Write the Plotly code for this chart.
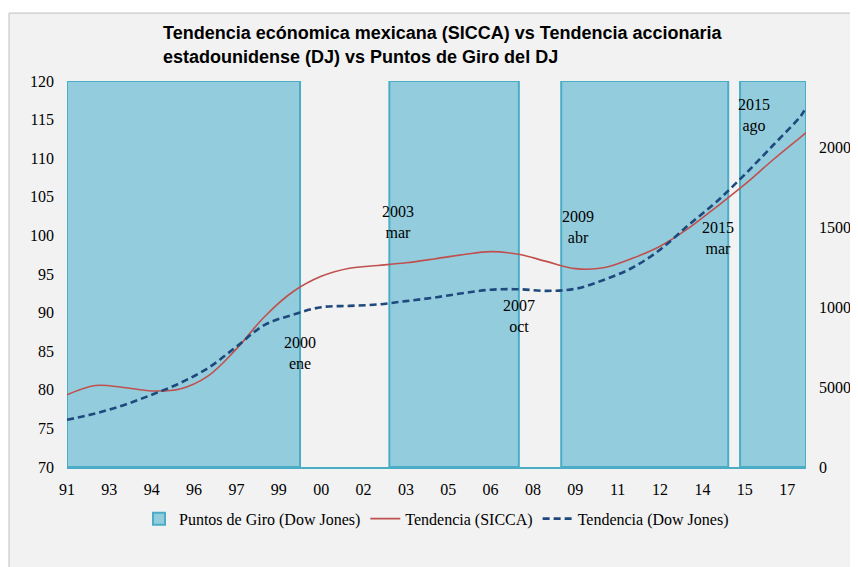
import pandas as pd
import plotly.graph_objects as go

# ---------------------------------------------------------------------------
# Datos
# ---------------------------------------------------------------------------

# puntos de muestreo anuales (octubre) + cierre dic 2017
fechas = [
    "1991-10-01", "1992-10-01", "1993-10-01", "1994-10-01", "1995-10-01",
    "1996-10-01", "1997-10-01", "1998-10-01", "1999-10-01", "2000-10-01",
    "2001-10-01", "2002-10-01", "2003-10-01", "2004-10-01", "2005-10-01",
    "2006-10-01", "2007-10-01", "2008-10-01", "2009-10-01", "2010-10-01",
    "2011-10-01", "2012-10-01", "2013-10-01", "2014-10-01", "2015-10-01",
    "2016-10-01", "2017-10-01", "2017-12-01",
]

tendencia_sicca = [
    79.35, 80.55, 80.3, 79.85, 80.1, 81.8, 85.3, 89.5, 92.7, 94.7,
    95.75, 96.1, 96.45, 96.95, 97.5, 97.9, 97.55, 96.6, 95.7, 95.8,
    97.0, 98.6, 100.9, 103.7, 106.6, 109.8, 112.8, 113.3,
]

tendencia_dj = [
    2950, 3350, 3870, 4520, 5250, 6200, 7530, 8890, 9530, 10000,
    10080, 10170, 10380, 10600, 10870, 11090, 11120, 11020, 11150, 11700,
    12450, 13600, 15130, 16600, 18300, 20130, 22000, 22500,
]

# periodos sombreados (puntos de giro del Dow Jones)
giro_inicio = ["1991-10-01", "2003-03-01", "2009-04-01", "2015-08-01"]
giro_fin = ["2000-01-01", "2007-10-01", "2015-03-01", "2017-12-01"]
giro_base = 70
giro_tope = 120

# etiquetas de los puntos de giro
etiquetas = ["2000<br>ene", "2003<br>mar", "2007<br>oct",
             "2009<br>abr", "2015<br>mar", "2015<br>ago"]
etiqueta_x = ["2000-01-01", "2003-06-15", "2007-10-01",
              "2009-11-01", "2014-10-20", "2016-02-01"]
etiqueta_y = [84.8, 101.75, 89.6, 101.1, 99.6, 115.5]

SERIF = "Liberation Serif"

# ---------------------------------------------------------------------------
# Figura
# ---------------------------------------------------------------------------

inicio = pd.to_datetime(giro_inicio)
fin = pd.to_datetime(giro_fin)
anchos = [(f - i).total_seconds() * 1000 for i, f in zip(inicio, fin)]

fig = go.Figure()

fig.add_trace(go.Bar(
    x=giro_inicio,
    y=[giro_tope - giro_base] * len(giro_inicio),
    base=giro_base,
    width=anchos,
    offset=0,
    name="Puntos de Giro (Dow Jones)",
    marker=dict(color="#93CDDD", line=dict(color="#4BACC6", width=2)),
    yaxis="y",
))

fig.add_trace(go.Scatter(
    x=fechas, y=tendencia_sicca, mode="lines",
    name="Tendencia (SICCA)",
    line=dict(color="#C0504D", width=1.6, shape="spline", smoothing=1.0),
    yaxis="y",
))

fig.add_trace(go.Scatter(
    x=fechas, y=tendencia_dj, mode="lines",
    name="Tendencia (Dow Jones)",
    line=dict(color="#1F497D", width=2.6, dash="7px,4px",
              shape="spline", smoothing=1.0),
    yaxis="y2",
))

for txt, ax, ay in zip(etiquetas, etiqueta_x, etiqueta_y):
    fig.add_annotation(
        x=ax, y=ay, xref="x", yref="y", text=txt, showarrow=False,
        font=dict(family=SERIF, size=16, color="black"), align="center",
    )

# marco gris del area del grafico
fig.add_shape(
    type="rect", xref="paper", yref="paper",
    x0=-0.0785, x1=1.09, y0=-0.3, y1=1.176,
    fillcolor="#F2F2F2", line=dict(color="#BFBFBF", width=1),
    layer="below",
)

# la pagina deja 8px de margen en el body: la figura se ajusta a 850x559
fig.update_layout(
    width=850, height=559, autosize=False,
    margin=dict(l=59, r=52, t=73, b=100),
    paper_bgcolor="white",
    plot_bgcolor="rgba(0,0,0,0)",
    barmode="overlay",
    title=dict(
        text="Tendencia ecónomica mexicana (SICCA) vs Tendencia accionaria"
             "<br>estadounidense (DJ) vs Puntos de Giro del DJ",
        font=dict(family="Liberation Sans", size=18, color="black",
                  weight="bold"),
        xref="paper", x=0.13, xanchor="left",
        yref="container", y=0.944, yanchor="top",
    ),
    xaxis=dict(
        type="date", automargin=False,
        range=["1991-10-01", "2017-12-01"],
        tick0="1991-10-01", dtick="M18", tickformat="%y",
        showgrid=False, zeroline=False, ticks="",
        showline=True, linecolor="#4BACC6", linewidth=2,
        ticklabelstandoff=7,
        tickfont=dict(family=SERIF, size=16, color="black"),
    ),
    yaxis=dict(
        range=[70, 120], dtick=5, showgrid=False, zeroline=False,
        automargin=False, ticks="", ticklabelstandoff=12,
        tickfont=dict(family=SERIF, size=16, color="black"),
    ),
    yaxis2=dict(
        overlaying="y", side="right", range=[0, 24150], dtick=5000,
        tickformat="d", automargin=False,
        showgrid=False, zeroline=False, ticks="", ticklabelstandoff=12,
        tickfont=dict(family=SERIF, size=16, color="black"),
    ),
    legend=dict(
        orientation="h", x=0.5, xanchor="center", y=-0.09, yanchor="top",
        font=dict(family=SERIF, size=16, color="black"),
        bgcolor="rgba(0,0,0,0)", traceorder="normal",
    ),
    showlegend=True,
)

fig.write_html("out.html")
